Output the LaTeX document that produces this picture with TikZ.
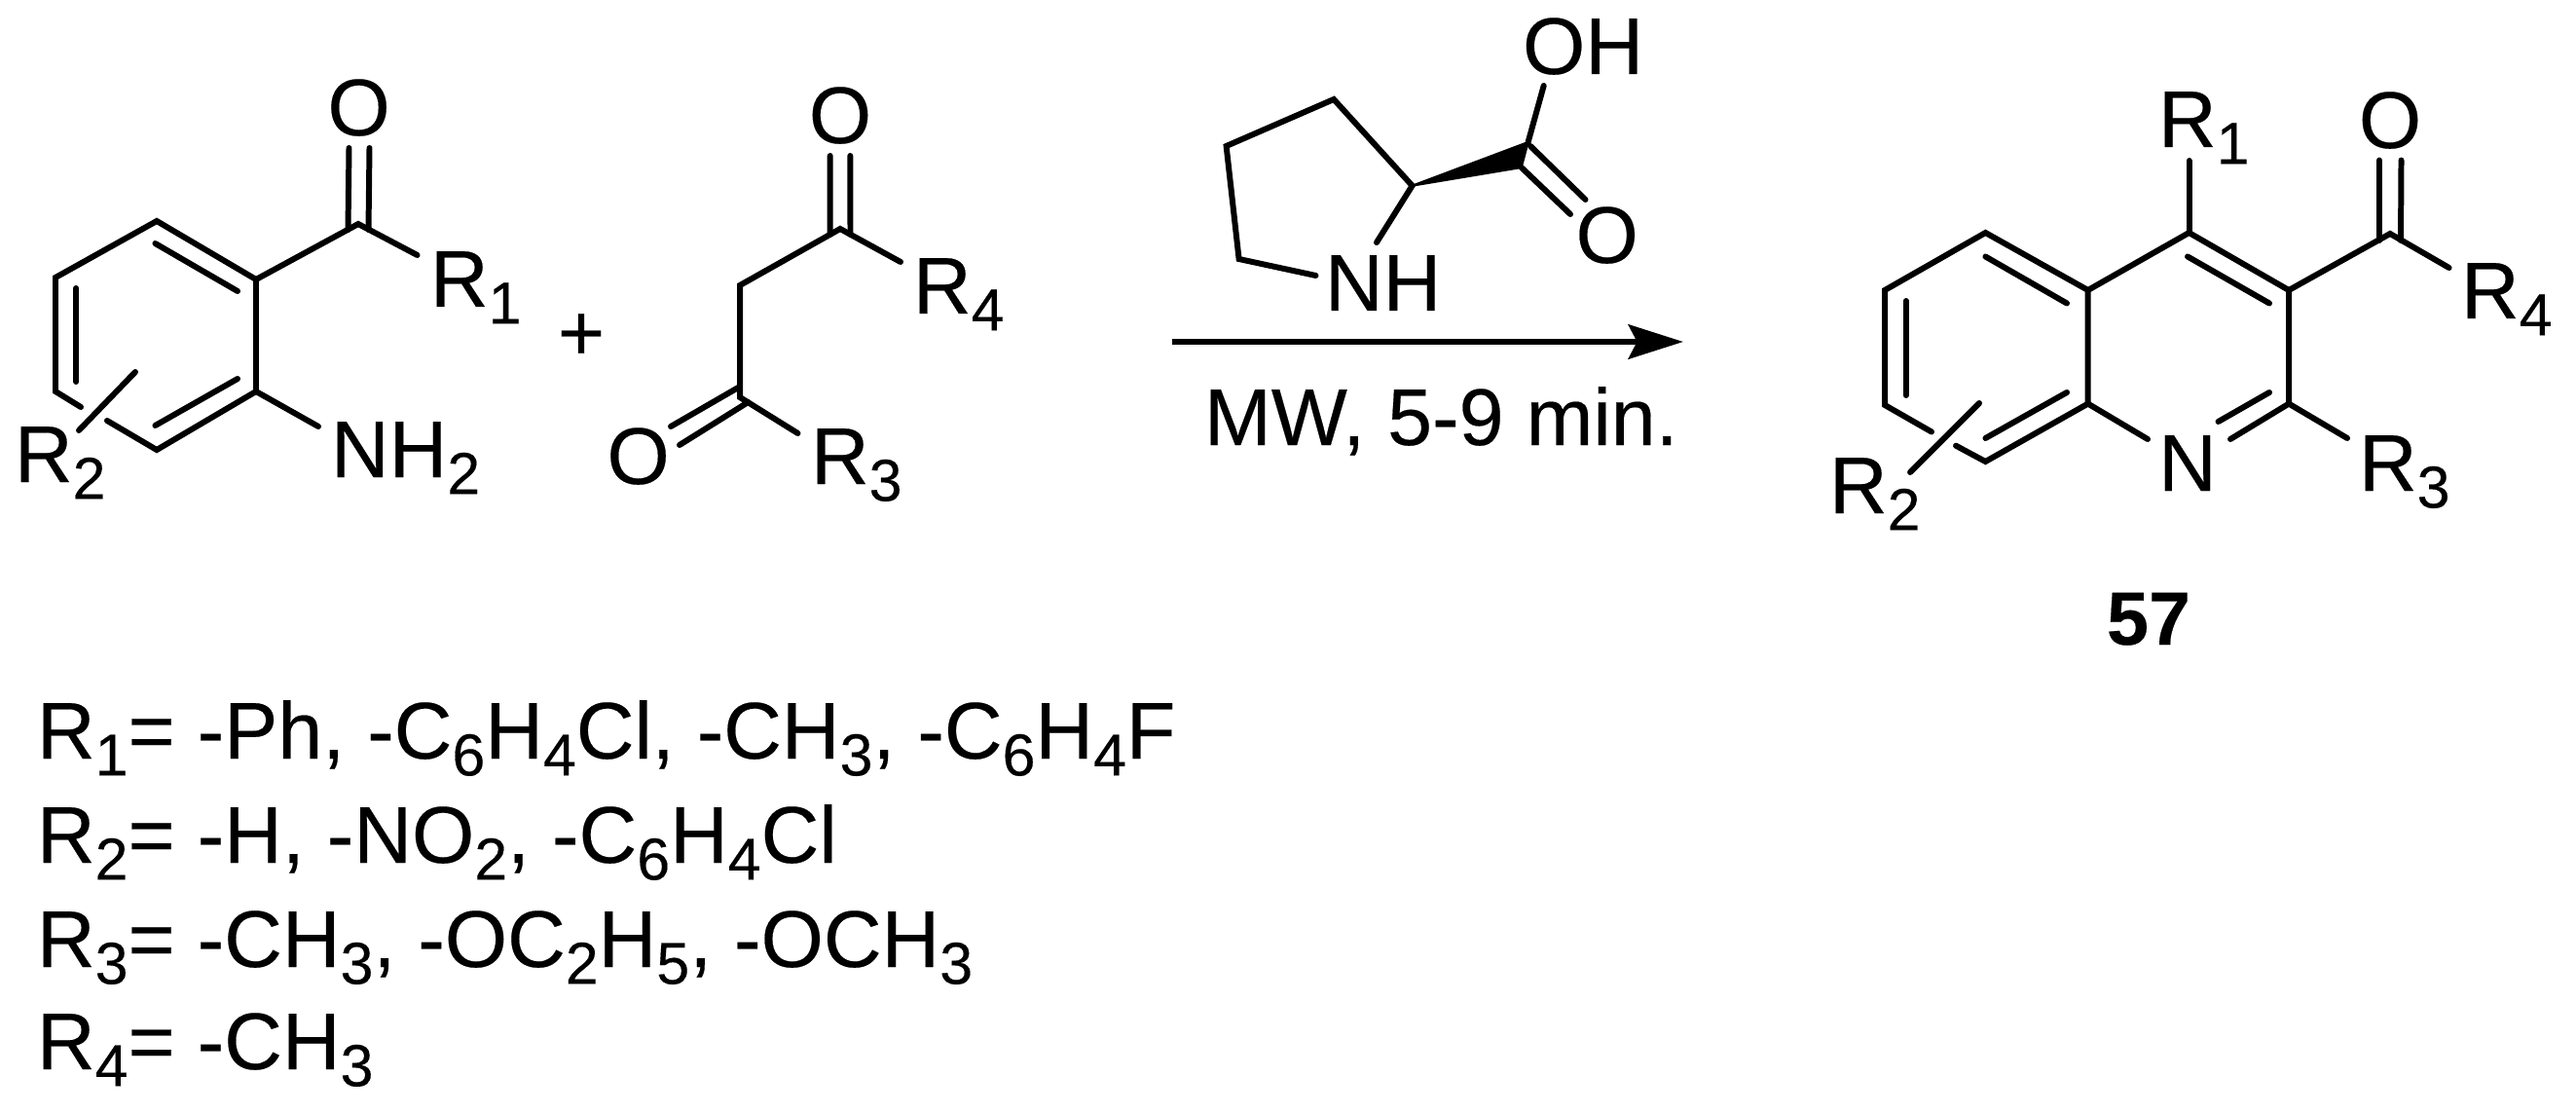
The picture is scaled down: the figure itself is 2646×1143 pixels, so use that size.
\documentclass[tikz,border=0pt]{standalone}
\usepackage{fontspec}
\setmainfont[FakeBold=0.25]{Liberation Sans}
\usetikzlibrary{arrows.meta}
\usetikzlibrary{calc}
\newcommand\chemfont{\fontsize{23.5}{28}\selectfont}
\newcommand\subnum[1]{\raisebox{-0.21em}{\fontsize{17.3}{20}\selectfont #1}}
\tikzstyle{bond}=[line width=1.7,line cap=round,line join=miter]
\tikzstyle{rxn}=[line width=1.9,-{Stealth[length=16,width=10,inset=2.5]}]
\tikzstyle{lbl}=[anchor=base west,inner sep=0,outer sep=0,xshift=-0.06cm,font=\chemfont]
\tikzstyle{atom}=[anchor=base,inner sep=0,outer sep=0,font=\chemfont]
\newcommand\atoms[1]{
  \foreach \n/\x/\y in {#1}{\coordinate (\n) at (\x,\y);}
}

\begin{document}
\begin{tikzpicture}[x=0.01cm,y=-0.01cm]
  \useasboundingbox (0,0) rectangle (2646,1143);
  
  % AMINOKETONE
  \atoms{a1/161/227,a2/263/287,a3/263/402,a4/161/462,a5/57/402,a6/57/285,
         a7/368/230,aO1/358.5/152,aO2/379.5/152,aR/428.6/262,aN/327/438,
         aI1/159.4/250,aI2/244/299,aI3/159.4/437,aI4/244/389,aI5/78.4/296,aI6/78.4/392,
         aG1/83/418,aG2/110/432,aS1/139/382,aS2/81/442}
  \draw[bond] (aG1) -- (a5) -- (a6) -- (a1) -- (a2) -- (a3) -- (a4) -- (aG2);
  \draw[bond] (aI1) -- (aI2);
  \draw[bond] (aI3) -- (aI4);
  \draw[bond] (aI5) -- (aI6);
  \draw[bond] (a2) -- (a7) -- (aR);
  \draw[bond] (a3) -- (aN);
  \draw[bond] (aS1) -- (aS2);
  \draw[bond] (aO1) -- ($(a7)+(-10.5,6)$);
  \draw[bond] (aO2) -- ($(a7)+(10.5,6)$);
  \node[atom] (aOtxt) at (368.6,139) {O};
  \node[lbl] (aR1) at (448,315) {R\subnum{1}};
  \node[lbl] (aR2) at (21,495) {R\subnum{2}};
  \node[lbl] (aNH) at (346,490) {NH\subnum{2}};
  \node[atom] (plus) at (597,370) {+};
  
  % DIKETONE
  \atoms{d1/863/235,d2/760/293,d3/760/408,dO1/852.7/160,dO2/873.3/160,dR4/925/269,
         dO3/689/438,dO4/698/457,dR3/819.5/445}
  \draw[bond] (dR4) -- (d1) -- (d2) -- (d3) -- (dR3);
  \draw[bond] (dO1) -- ($(d1)+(-10.5,6)$);
  \draw[bond] (dO2) -- ($(d1)+(10.5,6)$);
  \draw[bond] (dO3) -- (760,397);
  \draw[bond] (dO4) -- (768.5,413);
  \node[atom] (dOa) at (863,147) {O};
  \node[atom] (dOb) at (655.6,497) {O};
  \node[lbl] (dRa) at (944,322) {R\subnum{4}};
  \node[lbl] (dRb) at (839,497) {R\subnum{3}};
  
  % PROLINE
  \atoms{p1/1450.6/190.7,p2/1370/102,p3/1259.6/150,p4/1272.6/266,pN1/1351.5/283,pN2/1414/249,
         pC/1569.6/146,pW/1562.7/172,pOH/1585.7/88,pO1/1628.5/205,pO2/1613/220,pO3/1572/150}
  \draw[bond] (pN2) -- (p1) -- (p2) -- (p3) -- (p4) -- (pN1);
  \filldraw[line width=0.6,line join=round] (p1) -- (pC) -- (pW) -- cycle;
  \draw[bond] (pC) -- (pOH);
  \draw[bond] (pO3) -- (pO1);
  \draw[bond] (pW) -- (pO2);
  \node[lbl] (pNH) at (1367,319) {NH};
  \node[lbl] (pOHt) at (1570,76) {OH};
  \node[atom] (pOt) at (1650.7,270) {O};
  
  % REACTION ARROW
  \coordinate (Astart) at (1204,351);
  \coordinate (Aend) at (1729,351);
  \draw[rxn] (Astart) -- (Aend);
  \node[lbl] (cond) at (1243,457) {MW, 5-9 min.};
  
  % QUINOLINE
  \atoms{q1/2039.4/239,q2/2144.7/298,q3/2144.7/414.6,q4/2039.4/474,q5/1936/416,q6/1936/298,
         q7/2248.5/239,q8/2351/298,q9/2351/414.6,qN1/2206/451,qN2/2291/451,qN3/2278.5/433,qN4/2331/403,
         qI1/2039.4/263.5,qI2/2123/311.5,qI3/2039.4/450,qI4/2123/403,qI5/1957.7/309,qI6/1957.7/406,
         qI7/2247/263.5,qI8/2331/311.5,qG1/1984/443.5,qG2/2009/457.7,qS1/2033/414,qS2/1962/485,
         qR1/2248.5/165,qC/2455/240,qO1/2444/164.6,qO2/2466.5/164.6,qR4/2515.6/275,qR3/2411/450}
  \draw[bond] (qG1) -- (q5) -- (q6) -- (q1) -- (q2) -- (q3) -- (q4) -- (qG2);
  \draw[bond] (qI1) -- (qI2);
  \draw[bond] (qI3) -- (qI4);
  \draw[bond] (qI5) -- (qI6);
  \draw[bond] (q2) -- (q7) -- (q8) -- (q9) -- (qN2);
  \draw[bond] (q3) -- (qN1);
  \draw[bond] (qN3) -- (qN4);
  \draw[bond] (qI7) -- (qI8);
  \draw[bond] (qS1) -- (qS2);
  \draw[bond] (q7) -- (qR1);
  \draw[bond] (q8) -- (qC) -- (qR4);
  \draw[bond] (q9) -- (qR3);
  \draw[bond] (qO1) -- ($(qC)+(-11,7)$);
  \draw[bond] (qO2) -- ($(qC)+(11,7)$);
  \node[lbl] (qRa) at (2223,151) {R\subnum{1}};
  \node[atom] (qOt) at (2455,152) {O};
  \node[lbl] (qRd) at (2534,327) {R\subnum{4}};
  \node[lbl] (qRc) at (2429,504) {R\subnum{3}};
  \node[lbl] (qRb) at (1885,527) {R\subnum{2}};
  \node[atom] (qNt) at (2247,504) {N};
  \node[atom,font=\fontsize{22}{26}\selectfont\bfseries] (num) at (2207,662) {57};
  
  % SUBSTITUENTS
  \node[lbl] (list1) at (44,779) {R\subnum{1}= -Ph, -C\subnum{6}H\subnum{4}Cl, -CH\subnum{3}, -C\subnum{6}H\subnum{4}F};
  \node[lbl] (list2) at (44,886) {R\subnum{2}= -H, -NO\subnum{2}, -C\subnum{6}H\subnum{4}Cl};
  \node[lbl] (list3) at (44,993) {R\subnum{3}= -CH\subnum{3}, -OC\subnum{2}H\subnum{5}, -OCH\subnum{3}};
  \node[lbl] (list4) at (44,1098) {R\subnum{4}= -CH\subnum{3}};
\end{tikzpicture}
\end{document}
